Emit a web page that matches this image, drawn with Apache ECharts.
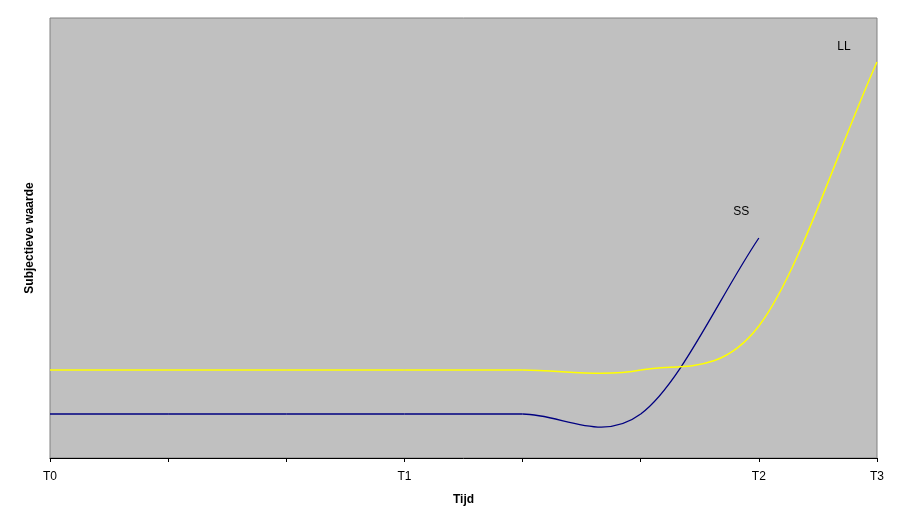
<!DOCTYPE html>
<html>
<head>
<meta charset="utf-8">
<script src="https://cdn.jsdelivr.net/npm/echarts@6/dist/echarts.min.js"></script>
<style>html,body{margin:0;padding:0;background:#fff;}#c{width:922px;height:519px;}</style>
</head>
<body>
<div id="c"></div>
<script>
// time positions and subjective values (0..100 scale)
var timeSS = [0, 1, 2, 3, 4, 5, 6];
var valuesSS = [10, 10, 10, 10, 10, 10, 50];
var timeLL = [0, 1, 2, 3, 4, 5, 6, 7];
var valuesLL = [20, 20, 20, 20, 20, 20, 30, 90];
var tickLabels = {0: 'T0', 3: 'T1', 6: 'T2', 7: 'T3'};
var seriesNames = ['SS', 'LL'];
var labelPos = [[5.85, 55.9], [6.72, 93.4]];

function pairs(xs, ys) { return xs.map(function (x, i) { return [x, ys[i]]; }); }

// Smoothed line (cardinal / Catmull-Rom bezier, like a spreadsheet "smoothed line")
function smoothRenderer(xs, ys, color, width) {
  return function (params, api) {
    var i = params.dataIndex;
    var n = xs.length;
    if (i >= n - 1) return null;
    var P = function (k) { return api.coord([xs[k], ys[k]]); };
    var tangent = function (k) {
      var a, b;
      if (k === 0) { a = P(0); b = P(1); return [b[0] - a[0], b[1] - a[1]]; }
      if (k === n - 1) { a = P(n - 2); b = P(n - 1); return [b[0] - a[0], b[1] - a[1]]; }
      a = P(k - 1); b = P(k + 1);
      return [(b[0] - a[0]) / 2, (b[1] - a[1]) / 2];
    };
    var p1 = P(i), p2 = P(i + 1), m1 = tangent(i), m2 = tangent(i + 1);
    return {
      type: 'bezierCurve',
      shape: {
        x1: p1[0], y1: p1[1], x2: p2[0], y2: p2[1],
        cpx1: p1[0] + m1[0] / 3, cpy1: p1[1] + m1[1] / 3,
        cpx2: p2[0] - m2[0] / 3, cpy2: p2[1] - m2[1] / 3
      },
      style: {stroke: color, lineWidth: width, fill: null}
    };
  };
}

var chart = echarts.init(document.getElementById('c'), null, {renderer: 'canvas'});
var font = 'Arial, "Liberation Sans", sans-serif';
function mp(i) {
  return {
    symbol: 'circle', symbolSize: 2, itemStyle: {color: 'rgba(0,0,0,0)'},
    data: [{coord: labelPos[i], value: seriesNames[i]}],
    label: {show: true, position: 'inside', formatter: seriesNames[i], color: '#000', fontFamily: font, fontSize: 12}
  };
}
chart.setOption({
  animation: false,
  grid: {left: 50, right: 45, top: 18, bottom: 61, show: true, backgroundColor: '#C0C0C0', borderColor: '#808080', borderWidth: 1},
  xAxis: {
    type: 'value', min: 0, max: 7, interval: 1,
    name: 'Tijd', nameLocation: 'middle', nameGap: 36,
    nameTextStyle: {fontFamily: font, fontSize: 12, fontWeight: 'bold', color: '#000'},
    axisLine: {lineStyle: {color: '#000', width: 1}},
    axisTick: {show: true, length: 4, lineStyle: {color: '#000'}},
    axisLabel: {margin: 13, fontFamily: font, fontSize: 12, color: '#000',
      formatter: function (v) { return tickLabels[v] || ''; }},
    splitLine: {show: false}
  },
  yAxis: {
    type: 'value', min: 0, max: 100,
    name: 'Subjectieve waarde', nameLocation: 'middle', nameGap: 14, nameRotate: 90,
    nameTextStyle: {fontFamily: font, fontSize: 12, fontWeight: 'bold', color: '#000'},
    axisLine: {show: false}, axisTick: {show: false}, axisLabel: {show: false}, splitLine: {show: false}
  },
  series: [
    {name: seriesNames[0], type: 'custom', data: pairs(timeSS, valuesSS), encode: {x: 0, y: 1},
     renderItem: smoothRenderer(timeSS, valuesSS, '#000080', 1.3), markPoint: mp(0)},
    {name: seriesNames[1], type: 'custom', data: pairs(timeLL, valuesLL), encode: {x: 0, y: 1},
     renderItem: smoothRenderer(timeLL, valuesLL, '#FFFF00', 1.5), markPoint: mp(1)}
  ]
});
</script>
</body>
</html>
